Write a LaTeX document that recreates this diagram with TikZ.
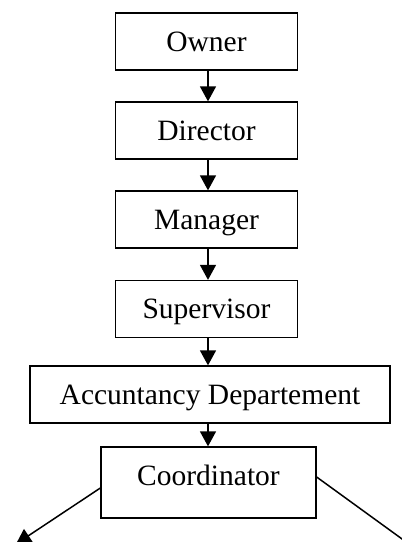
\documentclass[tikz,border=0pt]{standalone}
\usepackage{fontspec}
\setmainfont{Liberation Serif}
\usetikzlibrary{arrows.meta}
\begin{document}
\begin{tikzpicture}[x=1pt,y=-1pt,
  box/.style={draw,line width=1.3pt,inner sep=0pt,minimum height=57pt,
    text height=19.5pt,text depth=0pt,font=\fontsize{29.5}{34}\selectfont},
  link/.style={line width=1.5pt,-{Triangle[width=16pt,length=15pt]}}]
\useasboundingbox (0,0) rectangle (402,542);
\clip (0,0) rectangle (402,542);
\node[box,minimum width=182pt] (owner) at (206.5,41.5) {Owner};
\node[box,minimum width=182pt] (director) at (206.5,130.5) {Director};
\node[box,minimum width=182pt] (manager) at (206.5,219.5) {Manager};
\node[box,minimum width=182pt] (supervisor) at (206.5,309) {Supervisor};
\node[box,minimum width=360pt] (acc) at (210,394.5) {Accuntancy Departement};
\node[box,minimum width=215pt,minimum height=71pt,text depth=13pt] (coord) at (208.5,482.5) {Coordinator};
\coordinate (ax) at (208,0);
\coordinate (leftend) at (16,544);
\coordinate (rightend) at (420,552);
\draw[link] (owner.south -| ax) -- (director.north -| ax);
\draw[link] (director.south -| ax) -- (manager.north -| ax);
\draw[link] (manager.south -| ax) -- (supervisor.north -| ax);
\draw[link] (supervisor.south -| ax) -- (acc.north -| ax);
\draw[link] (acc.south -| ax) -- (coord.north -| ax);
\draw[link] ([yshift=-5.5pt]coord.west) -- (leftend);
\draw[link] ([yshift=5.5pt]coord.east) -- (rightend);
\end{tikzpicture}
\end{document}
